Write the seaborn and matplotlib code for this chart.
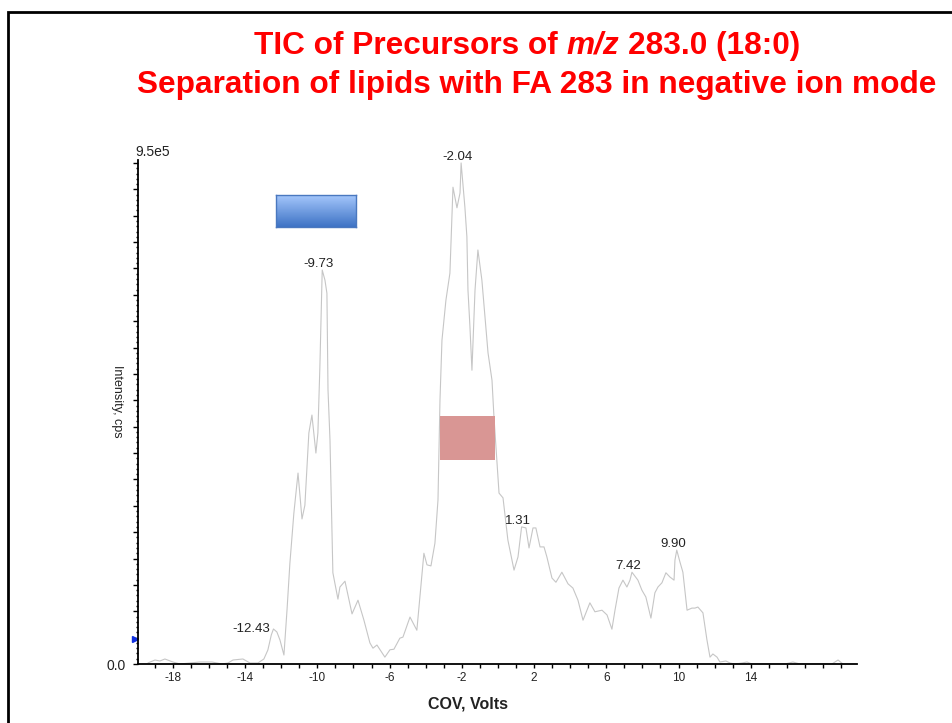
import matplotlib
matplotlib.use("Agg")
import matplotlib.pyplot as plt
import seaborn as sns
import pandas as pd
import numpy as np
from matplotlib.ticker import MultipleLocator, FixedLocator, NullFormatter
from matplotlib.patches import Rectangle
from matplotlib.colors import LinearSegmentedColormap

# ---------------- data ----------------
cov = [-19.38, -18.99, -18.72, -18.44, -18.00, -17.61, -17.05, -16.50, -15.84, -15.28,
       -14.95, -14.67, -14.12, -13.73, -13.29, -12.96, -12.74, -12.55, -12.43, -12.24,
       -12.07, -11.85, -11.68, -11.52, -11.30, -11.07, -10.85, -10.69, -10.47, -10.30,
       -10.08, -9.97, -9.86, -9.73, -9.58, -9.47, -9.41, -9.30, -9.14, -8.86,
       -8.75, -8.47, -8.08, -7.75, -7.42, -7.09, -6.92, -6.70, -6.26, -5.98,
       -5.76, -5.43, -5.26, -4.87, -4.49, -4.10, -3.93, -3.71, -3.49, -3.32,
       -3.21, -3.10, -2.88, -2.66, -2.49, -2.27, -2.10, -2.04, -1.83, -1.72,
       -1.66, -1.55, -1.44, -1.27, -1.11, -0.89, -0.72, -0.55, -0.33, -0.22,
       -0.06, 0.06, 0.28, 0.55, 0.89, 1.11, 1.31, 1.55, 1.72, 1.94,
       2.10, 2.33, 2.55, 2.71, 2.99, 3.21, 3.54, 3.88, 4.15, 4.43,
       4.71, 5.09, 5.37, 5.76, 6.04, 6.31, 6.48, 6.70, 6.92, 7.14,
       7.31, 7.42, 7.75, 7.97, 8.19, 8.47, 8.69, 8.86, 9.08, 9.30,
       9.52, 9.75, 9.80, 9.90, 10.08, 10.24, 10.47, 10.74, 10.91, 11.07,
       11.35, 11.57, 11.74, 11.90, 12.13, 12.29, 12.62, 12.85, 13.12, 13.51,
       13.79, 14.06, 15.89, 16.33, 16.72, 18.49, 18.83, 19.10]
intensity = [2000, 7600, 5700, 9500, 3800, 0, 1900, 3800, 3800, 0,
             1900, 7600, 9500, 1900, 1900, 9500, 26500, 55000, 66400, 60700,
             45500, 17000, 102000, 191000, 286000, 362000, 275000, 301000, 438000, 472000,
             400000, 438000, 563000, 747000, 728000, 703000, 520000, 425000, 173000, 123000,
             146000, 157000, 95000, 121000, 83000, 40000, 30000, 36000, 13000, 27000,
             28000, 49000, 51000, 89000, 64000, 210000, 188000, 186000, 229000, 311000,
             500000, 614000, 690000, 741000, 904000, 865000, 893000, 950000, 866000, 810000,
             709000, 639000, 557000, 709000, 785000, 728000, 658000, 590000, 538000, 468000,
             387000, 324000, 315000, 235000, 178000, 203000, 260000, 258000, 220000, 258000,
             258000, 222000, 222000, 203000, 163000, 155000, 174000, 152000, 144000, 121000,
             83000, 116000, 99000, 102000, 93000, 66000, 102000, 144000, 159000, 146000,
             159000, 174000, 159000, 140000, 127000, 87000, 135000, 146000, 154000, 173000,
             165000, 159000, 197000, 216000, 193000, 174000, 102000, 106000, 106000, 108000,
             97000, 46000, 13000, 19000, 13000, 3800, 5700, 1900, 0, 1900,
             3800, 0, 0, 3800, 0, 0, 7600, 0]
peak_labels = [-12.43, -9.73, -2.04, 1.31, 7.42, 9.90]
x_tick_labels = [-18, -14, -10, -6, -2, 2, 6, 10, 14]
threshold = 47000

W, H = 952, 723

sns.set_theme(style="white")
plt.rcParams['font.family'] = ['Liberation Sans', 'DejaVu Sans']

fig = plt.figure(figsize=(W / 100, H / 100), dpi=100)
fig.patch.set_facecolor("white")

def fx(px):
    return px / W

def fy(py):
    return 1 - py / H

ax = fig.add_axes([fx(138), fy(664), 719 / W, 504 / H])
df = pd.DataFrame({"COV": cov, "Intensity": intensity})
sns.lineplot(data=df, x="COV", y="Intensity", ax=ax, color="#c6c6c6",
             linewidth=0.8, estimator=None, sort=False)
ax.set_xlim(-19.93, 19.88)
ax.set_ylim(0, 955600)

for s in ["top", "right"]:
    ax.spines[s].set_visible(False)
for s in ["left", "bottom"]:
    ax.spines[s].set_color("black")
    ax.spines[s].set_linewidth(1.3)

ax.xaxis.set_major_locator(FixedLocator(x_tick_labels))
ax.xaxis.set_minor_locator(MultipleLocator(1))
ax.set_xticklabels([str(v) for v in x_tick_labels])
ax.yaxis.set_major_locator(MultipleLocator(50000))
ax.yaxis.set_minor_locator(MultipleLocator(10000))
ax.yaxis.set_major_formatter(NullFormatter())
ax.tick_params(axis="x", which="both", direction="out", length=3, width=1,
               color="black", labelsize=8.5, pad=3, labelcolor="#222222")
ax.tick_params(axis="y", which="major", direction="out", length=3.5, width=1, color="black")
ax.tick_params(axis="y", which="minor", direction="out", length=1.5, width=1, color="black")
ax.tick_params(axis="both", which="both", bottom=True, left=True)

ax.set_xlabel("COV, Volts", fontsize=11.5, fontweight="bold", color="#222222", va="center")
ax.xaxis.set_label_coords((468 - 138) / 719, -(704 - 664) / 504)
ax.set_ylabel("Intensity, cps", fontsize=9, rotation=-90, color="#222222", va="center")
ax.yaxis.set_label_coords(-(138 - 117) / 719, (664 - 401) / 504)

# y range labels
fig.text(fx(135), fy(152), "9.5e5", fontsize=10, ha="left", va="center", color="#222222")
fig.text(fx(126), fy(666), "0.0", fontsize=10, ha="right", va="center", color="#222222")

# threshold marker
ax.plot([-0.0035], [threshold], marker=">", color="#1030e0", markersize=5,
        transform=ax.get_yaxis_transform(), clip_on=False, linestyle="none", zorder=1)

# peak labels
for p in peak_labels:
    i = int(np.argmin([abs(c - p) for c in cov]))
    xv, yv = cov[i], intensity[i]
    if p == peak_labels[0]:
        ax.annotate(f"{p:.2f}", (xv, yv), xytext=(-2.5, 0), textcoords="offset points",
                    ha="right", va="center", fontsize=9.5, color="#222222")
    else:
        ax.annotate(f"{p:.2f}", (xv, yv), xytext=(-2.5, 0), textcoords="offset points",
                    ha="center", va="bottom", fontsize=9.5, color="#222222")

# decorative boxes
bax = fig.add_axes([fx(276), fy(227), 80 / W, 32 / H])
cmap = LinearSegmentedColormap.from_list("bl", ["#a4c6fb", "#3e73c5"])
bax.imshow(np.linspace(0, 1, 64).reshape(-1, 1), aspect="auto", cmap=cmap)
bax.set_xticks([])
bax.set_yticks([])
for s in bax.spines.values():
    s.set_color("#4a78bf")
    s.set_linewidth(1)

fig.patches.append(Rectangle((fx(440), fy(460)), 55 / W, 44 / H, transform=fig.transFigure,
                             facecolor="#d99694", edgecolor="none", zorder=5))

# frame
fig.patches.append(Rectangle((fx(8), -0.2), 1.2, fy(12) + 0.2, transform=fig.transFigure,
                             fill=False, edgecolor="black", linewidth=2, zorder=6))

# title
red = "#ff0000"
TS = 22.8
fig.text(fx(537), fy(93), "Separation of lipids with FA 283 in negative ion mode",
         fontsize=TS, fontweight="bold", color=red, ha="center", va="baseline")
parts = [("TIC of Precursors of", "normal"), ("m/z", "italic"), ("283.0 (18:0)", "normal")]
renderer = fig.canvas.get_renderer()
txts = []
for s, st in parts:
    t = fig.text(0, fy(54), s, fontsize=TS, fontweight="bold", style=st, color=red,
                 ha="left", va="baseline")
    txts.append(t)
widths = [t.get_window_extent(renderer).width for t in txts]
space = 0.278 * TS * 100 / 72
total = sum(widths) + space * (len(widths) - 1)
x = 527 - total / 2
for t, w in zip(txts, widths):
    t.set_x(fx(x))
    x += w + space

fig.savefig("out.png", dpi=100)
